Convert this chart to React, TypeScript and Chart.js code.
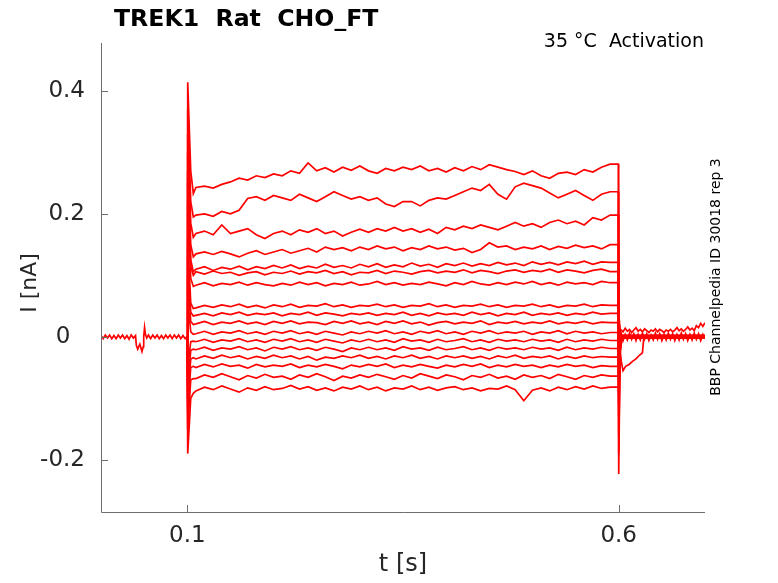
import React, { useEffect, useRef } from "react";
import { Chart, registerables } from "chart.js";

Chart.register(...registerables);

const FONT = "'DejaVu Sans', sans-serif";
const TEXT_COLOR = "#262626";
const AXIS_COLOR = "#6e6e6e";
const TRACE_COLOR = "#ff0000";

const titleText = "TREK1  Rat  CHO_FT";
const conditionText = "35 \u00b0C  Activation";
const sideText = "BBP Channelpedia ID 30018 rep 3";
const xAxisTitle = "t [s]";
const yAxisTitle = "I [nA]";

const xTickValues = [0.1, 0.6];
const yTickValues = [-0.2, 0, 0.2, 0.4];

// holding current before the step (all sweeps overlap here)
const preTimes = [
  0, 0.0025, 0.005, 0.0075, 0.01, 0.0125, 0.015, 0.0175, 0.02, 0.0225,
  0.025, 0.0275, 0.03, 0.0325, 0.035, 0.0375, 0.04, 0.041, 0.0425, 0.045,
  0.0475, 0.049, 0.0495, 0.0505, 0.0515, 0.053, 0.055, 0.0575, 0.06, 0.0625,
  0.065, 0.0675, 0.07, 0.0725, 0.075, 0.0775, 0.08, 0.0825, 0.085, 0.0875,
  0.09, 0.0925, 0.095, 0.0975, 0.0998,
];
const preCurrent = [
  0.002, -0.003, 0.003, -0.002, 0.003, -0.003, 0.002, -0.003, 0.003, -0.002,
  0.003, -0.003, 0.002, -0.004, 0.003, -0.002, 0.002, -0.014, -0.02, -0.012,
  -0.024, -0.016, 0.0, 0.015, 0.004, -0.002, 0.003, -0.003, 0.003, -0.002,
  0.003, -0.003, 0.002, -0.003, 0.003, -0.002, 0.003, -0.003, 0.003, -0.002,
  0.003, -0.003, 0.002, -0.003, 0.001,
];

// sample times during the voltage step
const pulseTimes = [
  0.11, 0.12, 0.13, 0.14, 0.15, 0.16, 0.17, 0.18, 0.19, 0.2,
  0.21, 0.22, 0.23, 0.24, 0.25, 0.26, 0.27, 0.28, 0.29, 0.3,
  0.31, 0.32, 0.33, 0.34, 0.35, 0.36, 0.37, 0.38, 0.39, 0.4,
  0.41, 0.42, 0.43, 0.44, 0.45, 0.46, 0.47, 0.48, 0.49, 0.5,
  0.51, 0.52, 0.53, 0.54, 0.55, 0.56, 0.57, 0.58, 0.59,
];

const trace01 = [
  0.243, 0.245, 0.242, 0.248, 0.252, 0.258, 0.255, 0.262, 0.259, 0.265,
  0.262, 0.27, 0.266, 0.283, 0.27, 0.275, 0.268, 0.276, 0.271, 0.278,
  0.27, 0.266, 0.274, 0.27, 0.276, 0.272, 0.278, 0.27, 0.274, 0.268,
  0.275, 0.27, 0.277, 0.272, 0.28, 0.276, 0.272, 0.269, 0.264, 0.27,
  0.262, 0.258, 0.266, 0.268, 0.264, 0.272, 0.268, 0.276, 0.281,
];
const trace02 = [
  0.198, 0.2, 0.196, 0.204, 0.2, 0.206, 0.225, 0.228, 0.222, 0.23,
  0.226, 0.222, 0.232, 0.226, 0.22, 0.228, 0.236, 0.23, 0.224, 0.228,
  0.222, 0.226, 0.216, 0.212, 0.22, 0.22, 0.213, 0.222, 0.226, 0.224,
  0.23, 0.236, 0.242, 0.238, 0.248, 0.232, 0.224, 0.244, 0.25, 0.246,
  0.242, 0.234, 0.226, 0.232, 0.238, 0.23, 0.222, 0.232, 0.236,
];
const trace03 = [
  0.168, 0.172, 0.166, 0.182, 0.168, 0.172, 0.176, 0.166, 0.16, 0.168,
  0.172, 0.166, 0.174, 0.17, 0.176, 0.168, 0.172, 0.164, 0.17, 0.175,
  0.17, 0.176, 0.172, 0.178, 0.172, 0.176, 0.17, 0.175, 0.168, 0.178,
  0.174, 0.18, 0.176, 0.182, 0.178, 0.174, 0.18, 0.186, 0.18, 0.184,
  0.178, 0.186, 0.19, 0.184, 0.188, 0.182, 0.194, 0.19, 0.198,
];
const trace04 = [
  0.135, 0.138, 0.134, 0.139, 0.135, 0.13, 0.136, 0.14, 0.134, 0.138,
  0.142, 0.136, 0.14, 0.144, 0.138, 0.146, 0.142, 0.145, 0.14, 0.146,
  0.142, 0.148, 0.143, 0.146, 0.14, 0.145, 0.142, 0.148, 0.143, 0.146,
  0.141, 0.144, 0.137, 0.142, 0.153, 0.146, 0.148, 0.142, 0.146, 0.143,
  0.148, 0.142, 0.147, 0.144, 0.149, 0.145, 0.148, 0.143, 0.15,
];
const trace05 = [
  0.11, 0.114, 0.108, 0.113, 0.11, 0.115, 0.109, 0.114, 0.111, 0.116,
  0.112, 0.117, 0.111, 0.115, 0.112, 0.118, 0.113, 0.116, 0.112, 0.118,
  0.114, 0.119, 0.113, 0.117, 0.114, 0.12, 0.115, 0.118, 0.113, 0.119,
  0.116, 0.12, 0.115, 0.119, 0.116, 0.121, 0.117, 0.12, 0.116, 0.122,
  0.118, 0.121, 0.117, 0.122, 0.119, 0.123, 0.118, 0.122, 0.121,
];
const trace06 = [
  0.106, 0.102, 0.107, 0.103, 0.105, 0.1, 0.104, 0.106, 0.101, 0.105,
  0.103, 0.107, 0.102, 0.106, 0.104, 0.108, 0.103, 0.106, 0.101, 0.105,
  0.104, 0.108, 0.103, 0.107, 0.105, 0.102, 0.106, 0.108, 0.104, 0.107,
  0.105, 0.109, 0.104, 0.108, 0.106, 0.103, 0.107, 0.109, 0.105, 0.108,
  0.106, 0.11, 0.105, 0.109, 0.107, 0.104, 0.108, 0.11, 0.106,
];
const trace07 = [
  0.084, 0.088, 0.083, 0.087, 0.085, 0.089, 0.084, 0.088, 0.085, 0.083,
  0.087, 0.084, 0.089, 0.085, 0.088, 0.083, 0.087, 0.085, 0.089, 0.084,
  0.086, 0.09, 0.085, 0.088, 0.084, 0.087, 0.085, 0.089, 0.086, 0.083,
  0.088, 0.085, 0.09, 0.086, 0.084, 0.088, 0.085, 0.089, 0.086, 0.09,
  0.085, 0.088, 0.084, 0.089, 0.086, 0.088, 0.085, 0.09, 0.088,
];
const trace08 = [
  0.047, 0.051, 0.048, 0.052, 0.049, 0.053, 0.048, 0.051, 0.047, 0.052,
  0.049, 0.053, 0.048, 0.051, 0.05, 0.054, 0.049, 0.052, 0.048, 0.051,
  0.05, 0.053, 0.049, 0.052, 0.048, 0.051, 0.05, 0.054, 0.049, 0.052,
  0.048, 0.051, 0.05, 0.053, 0.049, 0.052, 0.048, 0.051, 0.05, 0.053,
  0.049, 0.052, 0.048, 0.051, 0.05, 0.053, 0.049, 0.052, 0.051,
];
const trace09 = [
  0.035, 0.038, 0.034, 0.039, 0.036, 0.04, 0.035, 0.038, 0.036, 0.039,
  0.034, 0.038, 0.036, 0.04, 0.035, 0.039, 0.037, 0.034, 0.038, 0.036,
  0.039, 0.035, 0.038, 0.036, 0.04, 0.035, 0.038, 0.034, 0.039, 0.036,
  0.038, 0.035, 0.04, 0.036, 0.039, 0.034, 0.038, 0.036, 0.04, 0.035,
  0.038, 0.036, 0.039, 0.035, 0.038, 0.036, 0.04, 0.037, 0.038,
];
const trace10 = [
  0.021, 0.025, 0.02, 0.024, 0.022, 0.026, 0.021, 0.024, 0.02, 0.025,
  0.022, 0.026, 0.021, 0.024, 0.023, 0.02, 0.025, 0.022, 0.026, 0.021,
  0.024, 0.02, 0.025, 0.022, 0.026, 0.021, 0.024, 0.019, 0.023, 0.025,
  0.021, 0.024, 0.022, 0.026, 0.02, 0.024, 0.022, 0.025, 0.021, 0.024,
  0.022, 0.026, 0.021, 0.024, 0.022, 0.025, 0.021, 0.024, 0.023,
];
const trace11 = [
  0.005, 0.009, 0.004, 0.008, 0.006, 0.01, 0.005, 0.008, 0.004, 0.009,
  0.006, 0.01, 0.005, 0.008, 0.004, 0.009, 0.006, 0.003, 0.008, 0.005,
  0.009, 0.006, 0.01, 0.005, 0.008, 0.004, 0.009, 0.006, 0.01, 0.005,
  0.008, 0.004, 0.009, 0.006, 0.01, 0.005, 0.008, 0.006, 0.009, 0.004,
  0.008, 0.006, 0.01, 0.005, 0.009, 0.006, 0.008, 0.005, 0.007,
];
const trace12 = [
  -0.008, -0.004, -0.009, -0.005, -0.007, -0.003, -0.008, -0.005, -0.009, -0.004,
  -0.007, -0.003, -0.008, -0.005, -0.009, -0.004, -0.007, -0.01, -0.005, -0.008,
  -0.004, -0.008, -0.005, -0.009, -0.003, -0.007, -0.005, -0.009, -0.004, -0.008,
  -0.006, -0.003, -0.008, -0.005, -0.009, -0.004, -0.007, -0.005, -0.008, -0.004,
  -0.007, -0.005, -0.009, -0.004, -0.008, -0.005, -0.007, -0.004, -0.006,
];
const trace13 = [
  -0.021, -0.017, -0.022, -0.018, -0.02, -0.016, -0.021, -0.018, -0.023, -0.017,
  -0.02, -0.016, -0.021, -0.018, -0.022, -0.017, -0.02, -0.024, -0.018, -0.021,
  -0.017, -0.021, -0.018, -0.022, -0.016, -0.02, -0.018, -0.022, -0.017, -0.021,
  -0.019, -0.016, -0.021, -0.018, -0.022, -0.017, -0.02, -0.018, -0.021, -0.017,
  -0.02, -0.018, -0.022, -0.017, -0.021, -0.018, -0.02, -0.017, -0.019,
];
const trace14 = [
  -0.036, -0.031, -0.035, -0.03, -0.034, -0.031, -0.036, -0.032, -0.035, -0.03,
  -0.034, -0.031, -0.036, -0.032, -0.038, -0.033, -0.035, -0.031, -0.034, -0.03,
  -0.035, -0.032, -0.036, -0.031, -0.034, -0.03, -0.035, -0.032, -0.036, -0.031,
  -0.034, -0.031, -0.035, -0.032, -0.036, -0.031, -0.034, -0.03, -0.035, -0.032,
  -0.034, -0.031, -0.036, -0.032, -0.035, -0.031, -0.034, -0.032, -0.033,
];
const trace15 = [
  -0.05, -0.045, -0.049, -0.044, -0.048, -0.046, -0.051, -0.045, -0.049, -0.046,
  -0.048, -0.044, -0.05, -0.046, -0.049, -0.045, -0.048, -0.052, -0.046, -0.049,
  -0.045, -0.048, -0.044, -0.05, -0.046, -0.049, -0.045, -0.048, -0.051, -0.046,
  -0.049, -0.045, -0.048, -0.044, -0.05, -0.046, -0.049, -0.045, -0.048, -0.046,
  -0.05, -0.046, -0.049, -0.045, -0.048, -0.046, -0.05, -0.047, -0.048,
];
const trace16 = [
  -0.068, -0.062, -0.066, -0.06, -0.065, -0.07, -0.063, -0.067, -0.061, -0.066,
  -0.064, -0.069, -0.062, -0.066, -0.06, -0.065, -0.071, -0.064, -0.067, -0.062,
  -0.066, -0.061, -0.065, -0.069, -0.063, -0.067, -0.06, -0.064, -0.068, -0.062,
  -0.065, -0.07, -0.063, -0.066, -0.061, -0.067, -0.064, -0.069, -0.062, -0.066,
  -0.063, -0.068, -0.061, -0.065, -0.069, -0.063, -0.066, -0.062, -0.064,
];
const trace17 = [
  -0.088, -0.082, -0.086, -0.08, -0.085, -0.09, -0.083, -0.087, -0.081, -0.086,
  -0.084, -0.079, -0.085, -0.081, -0.087, -0.083, -0.088, -0.082, -0.085, -0.08,
  -0.086, -0.082, -0.088, -0.083, -0.085, -0.08, -0.086, -0.082, -0.087, -0.083,
  -0.081, -0.086, -0.083, -0.088, -0.084, -0.085, -0.08, -0.086, -0.104, -0.087,
  -0.083, -0.088, -0.082, -0.086, -0.081, -0.085, -0.08, -0.084, -0.082,
];

const traces = [
  trace01, trace02, trace03, trace04, trace05, trace06, trace07, trace08, trace09,
  trace10, trace11, trace12, trace13, trace14, trace15, trace16, trace17,
];

// capacitive transients at step onset / offset, one value per sweep
const onsetPeak = [0.414, 0.37, 0.33, 0.3, 0.27, 0.25, 0.22, 0.16, 0.13, 0.1, 0.06, -0.05, -0.08, -0.1, -0.12, -0.15, -0.19];
const onsetSettle = [0.27, 0.22, 0.185, 0.15, 0.125, 0.115, 0.095, 0.055, 0.04, 0.025, 0.008, -0.008, -0.022, -0.036, -0.05, -0.07, -0.1];
const onsetDip = [0.233, 0.195, 0.162, 0.13, 0.106, 0.1, 0.082, 0.046, 0.034, 0.02, 0.004, -0.007, -0.02, -0.034, -0.048, -0.068, -0.092];
const offsetPeak = [-0.223, -0.19, -0.16, -0.13, -0.11, -0.1, -0.09, -0.06, -0.05, -0.04, -0.03, 0.01, 0.015, 0.02, 0.025, 0.03, 0.04];
const offsetSettle = [-0.03, -0.025, -0.02, -0.018, -0.015, -0.012, -0.01, -0.008, -0.006, -0.004, -0.002, 0.002, 0.004, 0.006, 0.008, 0.01, 0.012];
const restLevel = [0.002, -0.002, 0.001, -0.001, 0.002, -0.002, 0.001, -0.001, 0.002, -0.002, 0.001, -0.001, 0.002, -0.002, 0.001, -0.001, 0.0];

// after the step
const tailTimes = [
  0.6025, 0.605, 0.6075, 0.61, 0.6125, 0.615, 0.6175, 0.62, 0.6225, 0.625,
  0.6275, 0.63, 0.6325, 0.635, 0.6375, 0.64, 0.6425, 0.645, 0.6475, 0.65,
  0.6525, 0.655, 0.6575, 0.66, 0.6625, 0.665, 0.6675, 0.67, 0.6725, 0.675,
  0.6775, 0.68, 0.6825, 0.685, 0.6875, 0.69, 0.6925, 0.695, 0.6975, 0.7,
];
const tailNoise = [
  0.005, -0.006, 0.004, -0.005, 0.006, -0.004, 0.005, -0.006, 0.004, -0.005,
  0.006, -0.004, 0.005, -0.006, 0.003, -0.005, 0.006, -0.004, 0.005, -0.006,
  0.004, -0.005, 0.006, -0.004, 0.005, -0.006, 0.004, -0.005, 0.006, -0.004,
  0.005, -0.006, 0.004, -0.005, 0.006, -0.004, 0.005, -0.006, 0.004, -0.003,
];
const tailHigh = [
  0.012, 0.008, 0.014, 0.009, 0.012, 0.007, 0.011, 0.015, 0.009, 0.012,
  0.008, 0.013, 0.01, 0.007, 0.011, 0.009, 0.013, 0.008, 0.012, 0.01,
  0.007, 0.011, 0.009, 0.012, 0.008, 0.011, 0.015, 0.01, 0.013, 0.009,
  0.012, 0.016, 0.011, 0.014, 0.01, 0.018, 0.015, 0.022, 0.017, 0.023,
];
const dipTimes = [0.6015, 0.603, 0.605, 0.608, 0.612, 0.616, 0.62, 0.624, 0.6275, 0.629];
const dipCurrent = [-0.02, -0.04, -0.055, -0.048, -0.045, -0.04, -0.036, -0.03, -0.026, -0.002];

const pts = (xs: number[], ys: number[]) => ys.map((v, i) => ({ x: xs[i], y: v }));

const sweepPoints = (levels: number[], i: number) => [
  { x: 0.0998, y: preCurrent[preCurrent.length - 1] },
  { x: 0.1005, y: onsetPeak[i] },
  { x: 0.104, y: onsetSettle[i] },
  { x: 0.107, y: onsetDip[i] },
  ...pts(pulseTimes, levels),
  { x: 0.5995, y: levels[levels.length - 1] },
  { x: 0.6, y: offsetPeak[i] },
  { x: 0.6015, y: offsetSettle[i] },
  { x: 0.604, y: restLevel[i] },
  { x: 0.7, y: restLevel[i] },
];

const line = (data: { x: number; y: number }[]) => ({
  data,
  borderColor: TRACE_COLOR,
  borderWidth: 1.7,
  pointRadius: 0,
  tension: 0,
  fill: false,
});

const decorations = {
  id: "decorations",
  afterDraw(chart: any) {
    const { ctx, chartArea: a, scales } = chart;
    const xs = scales.x;
    const ys = scales.y;
    ctx.save();
    ctx.strokeStyle = AXIS_COLOR;
    ctx.lineWidth = 1;
    ctx.beginPath();
    ctx.moveTo(a.left + 0.5, a.top);
    ctx.lineTo(a.left + 0.5, a.bottom + 0.5);
    ctx.lineTo(a.right, a.bottom + 0.5);
    yTickValues.forEach((v) => {
      const py = Math.round(ys.getPixelForValue(v)) + 0.5;
      ctx.moveTo(a.left, py);
      ctx.lineTo(a.left + 7, py);
    });
    xTickValues.forEach((v) => {
      const px = Math.round(xs.getPixelForValue(v)) + 0.5;
      ctx.moveTo(px, a.bottom);
      ctx.lineTo(px, a.bottom - 7);
    });
    ctx.stroke();

    ctx.fillStyle = "#000000";
    ctx.font = `bold 23.6px ${FONT}`;
    ctx.textAlign = "left";
    ctx.textBaseline = "alphabetic";
    ctx.fillText(titleText, 114, 26);

    ctx.font = `19px ${FONT}`;
    ctx.textAlign = "right";
    ctx.fillText(conditionText, 704, 47);

    ctx.fillStyle = TEXT_COLOR;
    ctx.textAlign = "center";
    ctx.textBaseline = "middle";
    ctx.font = `24px ${FONT}`;
    ctx.fillText(xAxisTitle, (a.left + a.right) / 2, 565);

    ctx.save();
    ctx.font = `22px ${FONT}`;
    ctx.translate(30, 283);
    ctx.rotate(-Math.PI / 2);
    ctx.fillText(yAxisTitle, 0, 0);
    ctx.restore();

    ctx.save();
    ctx.fillStyle = "#000000";
    ctx.font = `14px ${FONT}`;
    ctx.translate(716, 277);
    ctx.rotate(-Math.PI / 2);
    ctx.fillText(sideText, 0, 0);
    ctx.restore();

    ctx.restore();
  },
};

export default function App() {
  const canvasRef = useRef<HTMLCanvasElement | null>(null);
  const chartRef = useRef<Chart | null>(null);

  useEffect(() => {
    const ctx = canvasRef.current?.getContext("2d");
    if (!ctx) return;
    if (chartRef.current) chartRef.current.destroy();

    const datasets = [
      line(pts(preTimes, preCurrent)),
      ...traces.map((levels, i) => line(sweepPoints(levels, i))),
      line(pts(tailTimes, tailNoise)),
      line(pts(tailTimes, tailHigh)),
      line(pts(dipTimes, dipCurrent)),
    ];

    chartRef.current = new Chart(ctx, {
      type: "line",
      data: { datasets },
      options: {
        animation: false,
        responsive: false,
        devicePixelRatio: 1,
        layout: { padding: { top: 43, right: 73, left: 0, bottom: 0 } },
        plugins: { legend: { display: false }, tooltip: { enabled: false } },
        scales: {
          x: {
            type: "linear",
            min: 0,
            max: 0.7,
            grid: { display: false, drawTicks: false },
            border: { display: false },
            afterBuildTicks: (scale: any) => {
              scale.ticks = xTickValues.map((v) => ({ value: v }));
            },
            afterFit: (scale: any) => {
              scale.height = 71;
            },
            ticks: {
              color: TEXT_COLOR,
              font: { family: FONT, size: 23 },
              padding: 10,
              maxRotation: 0,
              callback: (v: any) => String(v),
            },
          },
          y: {
            type: "linear",
            min: -0.285,
            max: 0.478,
            grid: { display: false, drawTicks: false },
            border: { display: false },
            afterBuildTicks: (scale: any) => {
              scale.ticks = yTickValues.map((v) => ({ value: v }));
            },
            afterFit: (scale: any) => {
              scale.width = 101;
            },
            ticks: {
              color: TEXT_COLOR,
              font: { family: FONT, size: 23 },
              padding: 16,
              // the zero label sits left of the others in the original
              callback: (v: any) => (v === 0 ? "0  " : String(v)),
            },
          },
        },
      },
      plugins: [decorations],
    });

    return () => {
      if (chartRef.current) {
        chartRef.current.destroy();
        chartRef.current = null;
      }
    };
  }, []);

  return (
    <div style={{ position: "absolute", left: 0, top: 0, width: 778, height: 583, background: "#fff" }}>
      <canvas ref={canvasRef} width={778} height={583} />
    </div>
  );
}
